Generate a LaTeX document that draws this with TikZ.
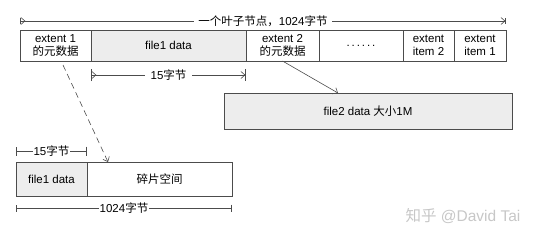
\documentclass[tikz,border=0pt]{standalone}
\usepackage{fontspec}
\setmainfont{Liberation Sans}
\newfontfamily\cjk{Noto Sans CJK SC}
\usetikzlibrary{arrows.meta, positioning, calc}

\begin{document}
\begin{tikzpicture}[x=1pt, y=-1pt, >={Straight Barb[length=4pt, width=7pt]},
  font=\fontsize{11.5}{13.5}\selectfont,
  cell/.style={draw=black!70, line width=0.8pt, minimum height=31pt, inner sep=0pt, outer sep=0pt, anchor=north west, align=center},
  datacell/.style={cell, fill=black!7},
  dimline/.style={draw=black!70, line width=0.6pt},
  dimtext/.style={midway, fill=white, inner sep=2pt}]
\useasboundingbox (0,0) rectangle (538,239);

% one leaf node
\node[cell, minimum width=71pt] (ext1) at (20,30) {extent 1\\{\cjk 的元数据}};
\node[datacell, minimum width=155pt, right=0pt of ext1] (data1) {file1 data};
\node[cell, minimum width=73pt, right=0pt of data1] (ext2) {extent 2\\{\cjk 的元数据}};
\node[cell, minimum width=84pt, right=0pt of ext2] (dots) {.\,.\,.\,.\,.\,.};
\node[cell, minimum width=51pt, right=0pt of dots] (item2) {extent\\item 2};
\node[cell, minimum width=52pt, right=0pt of item2] (item1) {extent\\item 1};

\draw[dimline, {Bar[width=6pt]>}-{>Bar[width=6pt]}] ($(ext1.north west)+(0,-9)$) -- ($(item1.north east)+(0,-9)$)
  node[dimtext, inner xsep=4pt] {{\cjk 一个叶子节点，}1024{\cjk 字节}};
\draw[dimline, {Bar[width=12pt]>}-{>Bar[width=12pt]}] ($(data1.south west)+(0,14)$) -- ($(data1.south east)+(0,14)$)
  node[dimtext, inner xsep=6pt] {15{\cjk 字节}};

% file2 data
\node[datacell, minimum width=288pt, minimum height=36pt] (data2) at (224,93) {file2 data {\cjk 大小}1M};
\draw[dimline, ->] (ext2.south) -- ($(data2.north west)+(114,0)$);

% small leaf node
\node[datacell, minimum width=71pt, minimum height=34pt] (data1b) at (16,162) {file1 data};
\node[cell, minimum width=145pt, minimum height=34pt, right=0pt of data1b] (frag) {{\cjk 碎片空间}};
\draw[dimline, dash pattern=on 6pt off 4pt, ->] ($(ext1.south west)+(43,4)$) -- ($(frag.north west)+(21,0)$);

\draw[dimline, {Bar[width=9pt]}-{Bar[width=9pt]}] ($(data1b.north west)+(0,-11)$) -- ($(data1b.north east)+(0,-11)$)
  node[dimtext, inner sep=1pt] {15{\cjk 字节}};
\draw[dimline, {Bar[width=7pt]}-{Bar[width=7pt]}] ($(data1b.south west)+(0,12)$) -- ($(frag.south east)+(0,12)$)
  node[dimtext, inner sep=1pt] {1024{\cjk 字节}};

\node[text=black!22, font=\fontsize{15.5}{17}\selectfont] (mark) at (463,216) {{\cjk 知乎} @David Tai};
\end{tikzpicture}
\end{document}
